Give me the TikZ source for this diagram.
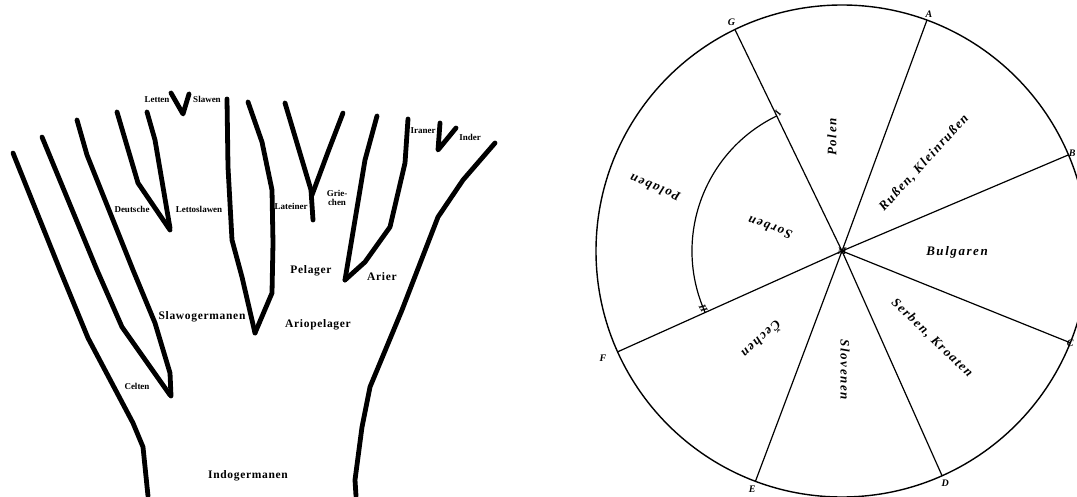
\documentclass[tikz,border=0pt]{standalone}
\usepackage{fontspec}
\setmainfont{Liberation Serif}
\newfontfamily\kurrent{Liberation Serif}[LetterSpace=12]
\begin{document}
\begin{tikzpicture}[x=1pt, y=1pt,
    branch/.style={line width=4.8pt, line join=round, line cap=round},
    tribe/.style={font=\bfseries\fontsize{9}{9.5}\selectfont, inner sep=1pt},
    stock/.style={font=\bfseries\fontsize{11.5}{13}\selectfont\addfontfeature{LetterSpace=6}, inner sep=1pt},
    folk/.style={font=\kurrent\bfseries\itshape\fontsize{13}{14}\selectfont, inner sep=1pt},
    rimlabel/.style={font=\bfseries\itshape\fontsize{10}{11}\selectfont, inner sep=0.5pt},
    spoke/.style={line width=1.2pt}]
\useasboundingbox (0,0) rectangle (1077,496);

% --- Stammbaum (links) ---
% aeussere Aeste links
\draw[branch] (13,343) -- (60,226) -- (88,158) -- (133,73) -- (143,49) -- (148,0);
\draw[branch] (42,359) -- (97,226) -- (122,169) -- (170,101);
\draw[branch] (77,376) -- (87,341) -- (133,226) -- (155,173) -- (170,123) -- (171,100);
% Deutsche / Lettoslawen
\draw[branch] (117,384) -- (138,313) -- (170,266);
\draw[branch] (147,384) -- (155,356) -- (170,268);
% Letten / Slawen
\draw[branch] (171,403) -- (183,382) -- (189,402);
% Ariopelager
\draw[branch] (227,397) -- (228,329) -- (232,256) -- (242,219) -- (255,163);
\draw[branch] (248,394) -- (262,354) -- (272,306) -- (273,253) -- (272,203) -- (255,163);
% Lateiner / Griechen
\draw[branch] (285,393) -- (311,306) -- (313,276);
\draw[branch] (343,383) -- (328,344) -- (312,301);
% Pelager / Arier
\draw[branch] (377,380) -- (365,336) -- (345,216);
\draw[branch] (408,377) -- (405,333) -- (390,269) -- (365,234) -- (345,216);
% Iraner / Inder
\draw[branch] (440,373) -- (438,346) -- (456,368);
% aeusserer Ast rechts
\draw[branch] (495,353) -- (463,316) -- (438,279) -- (402,186) -- (370,109)
    -- (362,69) -- (355,16) -- (356,0);

% Beschriftung
\node[tribe] (letten) at (157,396) {Letten};
\node[tribe] (slawen) at (207,397) {Slawen};
\node[tribe] (deutsche) at (132,287) {Deutsche};
\node[tribe] (lettoslawen) at (199,287) {Lettoslawen};
\node[tribe] (celten) at (137,110) {Celten};
\node[tribe] (lateiner) at (291,290) {Lateiner};
\node[tribe, align=center] (griechen) at (337,298) {Grie-\\chen};
\node[tribe] (iraner) at (423,365) {Iraner};
\node[tribe] (inder) at (470,359) {Inder};
\node[stock] (slawogermanen) at (202,179) {Slawogermanen};
\node[stock] (ariopelager) at (318,171) {Ariopelager};
\node[stock] (pelager) at (311,225) {Pelager};
\node[stock] (arier) at (382,219) {Arier};
\node[stock] (indogermanen) at (248,20) {Indogermanen};

% --- Kreisschema (rechts) ---
\coordinate (hub) at (842,245);
\draw[line width=1.4pt] (hub) circle[radius=246];
\foreach \name/\ang/\dist in {G/115.8/254, A/69.8/252, B/23/250, C/-21.9/246,
                              D/-66/254, E/-110.6/255, F/-155.8/262} {
    \coordinate (\name) at ([shift={(hub)}]\ang:246);
    \draw[spoke] (hub) -- (\name);
    \node[rimlabel] (l\name) at ([shift={(hub)}]\ang:\dist) {\name};
}
% innerer Bogen I--II
\coordinate (I) at ([shift={(hub)}]115.8:150);
\coordinate (II) at ([shift={(hub)}]204.2:150);
\draw[spoke] (I) arc[start angle=115.8, end angle=204.2, radius=150];
\node[rimlabel, rotate=60, anchor=west] (lI) at (I) {I};
\node[rimlabel, rotate=-65, anchor=east] (lII) at (II) {II};
\node[rimlabel] (lM) at (hub) {M};

% Voelker
\node[folk, rotate=90] (polen) at (832,359) {Polen};
\node[folk, rotate=47.6] (russen) at (924,333) {Rußen, Kleinrußen};
\node[folk] (bulgaren) at (957,244) {Bulgaren};
\node[folk, rotate=-44] (serben) at (932,158) {Serben, Kroaten};
\node[folk, rotate=-90] (slovenen) at (845,126) {Slovenen};
\node[folk, rotate=223] (cechen) at (762,156) {Čechen};
\node[folk, rotate=158] (polaben) at (655,308) {Polaben};
\node[folk, rotate=160] (sorben) at (770,268) {Sorben};
\end{tikzpicture}
\end{document}
